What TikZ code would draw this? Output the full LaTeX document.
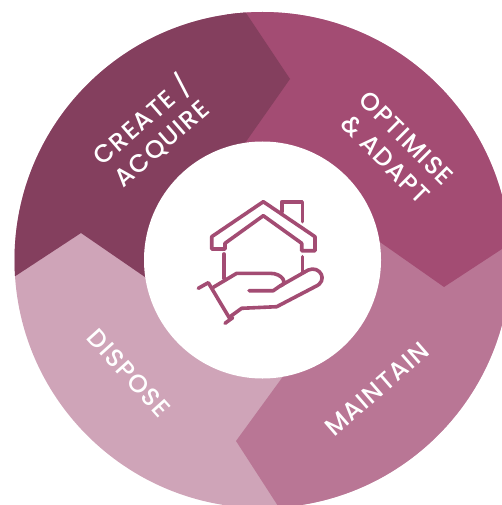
\documentclass[tikz,border=0pt]{standalone}
\usepackage{fontspec}
\setmainfont{Poppins Medium}[LetterSpace=5]
\definecolor{createcol}{HTML}{843F5E}
\definecolor{optimisecol}{HTML}{A34C73}
\definecolor{maintaincol}{HTML}{B97695}
\definecolor{disposecol}{HTML}{CFA4B8}

\begin{document}
\begin{tikzpicture}[x=1pt, y=-1pt]
  \tikzstyle{label} = [text=white, align=center, font=\fontsize{25}{30}\selectfont, inner sep=0pt]
  \tikzstyle{icon} = [draw=optimisecol, line width=3.6pt, line cap=round, line join=round]

  \useasboundingbox (0,0) rectangle (502,505);

  % Draw segments
  \begin{scope}
    \clip (0,0) rectangle (502,505);
    \clip (262.5,260) circle (248);
    \fill [disposecol] (0,0) rectangle (560,540);
    \fill [maintaincol] (300,540) -- (236,441) -- (295,360) -- (300,250) -- (560,200) -- (560,540) -- cycle;
    \fill [optimisecol] (226,-17) -- (560,-17) -- (560,211) -- (444,287) -- (320,200) -- (230,170) -- cycle;
    \fill [createcol] (226,-17) -- (290,79) -- (224,173) -- (190,308) -- (81,233) -- (-15,296) -- (-30,-17) -- cycle;
  \end{scope}
  \fill [white] (262.5,260) circle (118.5);

  % Place labels
  \node [label, rotate=41] (create) at (151,131) {CREATE /\\ACQUIRE};
  \node [label, rotate=-45] (optimise) at (396,149) {OPTIMISE\\\&\ ADAPT};
  \node [label, rotate=41] (maintain) at (377,389) {MAINTAIN};
  \node [label, rotate=-48] (dispose) at (129,373) {DISPOSE};

  % Draw house
  \draw [icon] (225,249) -- (211.7,249) -- (211.7,236.7) -- (263.3,201.7) -- (315,236.7) -- (315,250.7)
    -- (301.7,250.7) -- (301.7,243.3) -- (263.3,215.7) -- (225,243.3) -- cycle;
  \draw [icon] (281.7,211.7) -- (281.7,201.7) -- (302.3,201.7) -- (302.3,221.7);
  \draw [icon] (224,254) -- (224,278.3);
  \draw [icon] (302.3,256.7) -- (302.3,271.7);

  % Draw hand
  \draw [icon] (198.3,288.3) -- (208.3,282.7) -- (230,319);
  \draw [icon] (225,323.3) -- (232.7,317.7);
  \draw [icon] (213.3,287.3) -- (236.7,273.3) -- (270,273.3)
    .. controls (283,273.3) and (288,284) .. (280,286) -- (273.3,290.7) -- (249,290.7);
  \draw [icon] (280,286) -- (308.3,270) .. controls (320,265) and (329,281) .. (315,286.7)
    -- (276.7,306.7) -- (241.7,308.3) -- (230,316.7);
\end{tikzpicture}
\end{document}
